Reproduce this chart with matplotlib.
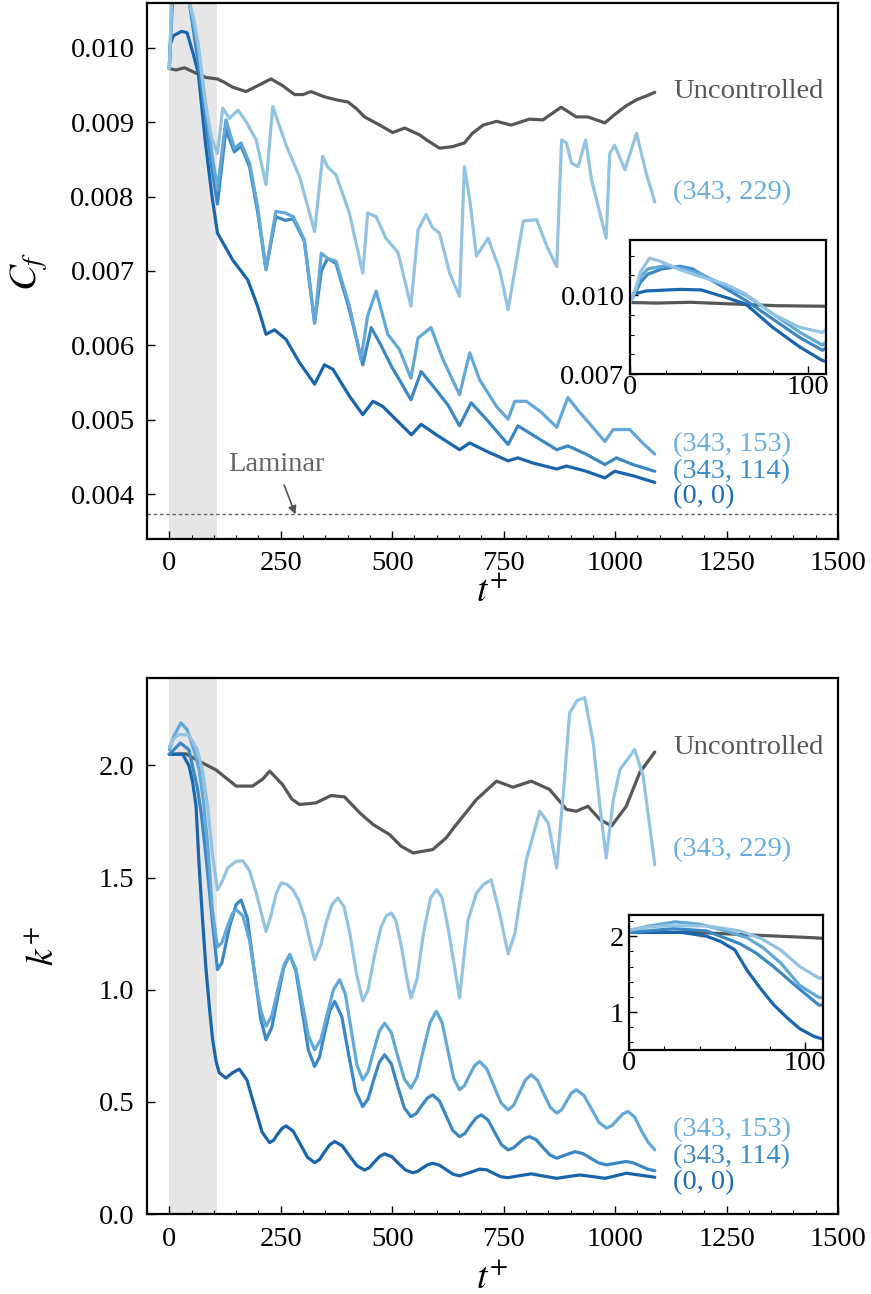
import numpy as np
import matplotlib
matplotlib.use("Agg")
import matplotlib.pyplot as plt
from matplotlib.ticker import MultipleLocator, AutoMinorLocator, FormatStrFormatter

plt.rcParams["font.family"] = ["Liberation Serif", "DejaVu Serif"]
plt.rcParams["mathtext.fontset"] = "stix"

LABELS = ["Uncontrolled", "(343, 229)", "(343, 153)", "(343, 114)", "(0, 0)"]
LINE_COLORS = ["#575757", "#93c3e2", "#62a8d8", "#3b88c4", "#1a66ad"]
TEXT_COLORS = ["#575757", "#6aaee0", "#6aaee0", "#3d8cc8", "#1f6db4"]

# ---- skin friction coefficient C_f ----
cf_t_unc = [0, 15, 34, 52, 82, 108, 125, 142, 172, 202, 228, 254, 281, 300, 318, 348, 374, 401,
            420, 438, 472, 501, 528, 561, 580, 606, 635, 662, 680, 704, 734, 767, 808, 838, 879,
            913, 939, 977, 1003, 1025, 1048, 1070, 1089]
cf_unc = [0.00972, 0.00970, 0.00973, 0.00968, 0.00960, 0.00958, 0.00953, 0.00947, 0.00941,
          0.00950, 0.00958, 0.00949, 0.00937, 0.00937, 0.00941, 0.00934, 0.00930, 0.00927,
          0.00918, 0.00907, 0.00896, 0.00886, 0.00892, 0.00883, 0.00875, 0.00865, 0.00867,
          0.00872, 0.00885, 0.00896, 0.00901, 0.00896, 0.00904, 0.00903, 0.00920, 0.00907,
          0.00907, 0.00899, 0.00912, 0.00922, 0.00930, 0.00935, 0.00940]

cf_t_229 = [0, 3, 6, 11, 17, 28, 39, 54, 65, 80, 95, 108, 120, 135, 154, 172, 195, 217, 232, 262,
            292, 326, 344, 355, 374, 404, 434, 445, 464, 486, 513, 542, 558, 576, 591, 606, 629,
            651, 662, 674, 689, 715, 741, 760, 794, 824, 847, 869, 880, 891, 902, 917, 934, 947,
            962, 980, 988, 999, 1022, 1048, 1070, 1089]
cf_229 = [0.00972, 0.0102, 0.0109, 0.01141, 0.01129, 0.01097, 0.01072, 0.01041, 0.01004, 0.00929,
          0.00878, 0.00858, 0.00919, 0.00905, 0.00916, 0.00901, 0.00876, 0.00816, 0.00921, 0.00869,
          0.00827, 0.00753, 0.00854, 0.00840, 0.00829, 0.00778, 0.00697, 0.00778, 0.00773, 0.00744,
          0.00725, 0.00653, 0.00755, 0.00776, 0.00758, 0.00751, 0.00697, 0.00666, 0.00840, 0.00796,
          0.00720, 0.00744, 0.00702, 0.00648, 0.00767, 0.00769, 0.00733, 0.00706, 0.00876, 0.00872,
          0.00845, 0.00840, 0.00876, 0.00823, 0.00787, 0.00744, 0.00858, 0.00869, 0.00836, 0.00885,
          0.00831, 0.00793]

cf_t_153 = [0, 3, 6, 10, 20, 30, 40, 55, 65, 80, 95, 108, 127, 146, 161, 180, 198, 217, 239, 260,
            278, 303, 326, 341, 355, 374, 404, 430, 445, 464, 490, 516, 542, 558, 587, 614, 651,
            674, 696, 734, 760, 775, 801, 835, 869, 894, 921, 950, 977, 996, 1033, 1060, 1089]
cf_153 = [0.00972, 0.0102, 0.0107, 0.0110, 0.01112, 0.0110, 0.0108, 0.0103, 0.0100, 0.0093,
          0.0086, 0.0081, 0.00903, 0.00865, 0.00872, 0.00845, 0.00787, 0.00702, 0.00780, 0.00778,
          0.00773, 0.00742, 0.00630, 0.00724, 0.00717, 0.00713, 0.00653, 0.00581, 0.00640, 0.00673,
          0.00615, 0.00595, 0.00556, 0.00610, 0.00624, 0.00581, 0.00534, 0.00590, 0.00554, 0.00518,
          0.00501, 0.00525, 0.00525, 0.00510, 0.00490, 0.00530, 0.00510, 0.00490, 0.00471, 0.00487,
          0.00487, 0.00470, 0.00454]

cf_t_114 = [0, 3, 6, 10, 18, 28, 35, 50, 65, 80, 95, 108, 127, 146, 161, 180, 198, 217, 239, 260,
            278, 303, 326, 341, 355, 374, 404, 434, 453, 475, 500, 520, 542, 565, 599, 625, 651,
            677, 711, 760, 782, 831, 869, 894, 935, 977, 1003, 1040, 1089]
cf_114 = [0.00972, 0.0101, 0.0105, 0.0108, 0.0110, 0.0111, 0.0110, 0.0104, 0.0098, 0.0091,
          0.0084, 0.0079, 0.00890, 0.00860, 0.00868, 0.00840, 0.00780, 0.00702, 0.00773, 0.00768,
          0.00770, 0.00740, 0.00630, 0.00700, 0.00717, 0.00710, 0.00648, 0.00574, 0.00624, 0.00600,
          0.00570, 0.00550, 0.00527, 0.00565, 0.00540, 0.00520, 0.00492, 0.00523, 0.00501, 0.00467,
          0.00492, 0.00474, 0.00460, 0.00465, 0.00454, 0.00440, 0.00449, 0.00440, 0.00431]

cf_t_00 = [0, 2, 9, 28, 40, 54, 65, 80, 95, 108, 142, 176, 198, 217, 236, 262, 292, 326, 348, 367,
           404, 434, 457, 479, 516, 543, 565, 599, 651, 674, 711, 760, 782, 816, 869, 891, 935,
           977, 999, 1040, 1089]
cf_00 = [0.00972, 0.01004, 0.01016, 0.01022, 0.0102, 0.00991, 0.00966, 0.00878, 0.00804, 0.00751,
         0.00715, 0.00688, 0.00653, 0.00615, 0.00621, 0.00608, 0.00577, 0.00548, 0.00574, 0.00568,
         0.00532, 0.00507, 0.00525, 0.00518, 0.00496, 0.00480, 0.00494, 0.00480, 0.00460, 0.00469,
         0.00458, 0.00445, 0.00449, 0.00442, 0.00434, 0.00438, 0.00431, 0.00422, 0.00431, 0.00425,
         0.00416]

cf_laminar = 0.00373

# ---- turbulent kinetic energy k^+ ----
k_t_unc = [0, 37, 67, 105, 130, 150, 187, 210, 225, 254, 275, 292, 329, 363, 393, 427, 457, 494,
           520, 547, 591, 621, 644, 689, 734, 771, 812, 853, 891, 913, 939, 966, 992, 1025, 1055,
           1089]
k_unc = [2.05, 2.052, 2.019, 1.98, 1.94, 1.908, 1.908, 1.94, 1.975, 1.915, 1.85, 1.826, 1.833,
         1.866, 1.86, 1.789, 1.737, 1.692, 1.64, 1.61, 1.625, 1.677, 1.737, 1.848, 1.93, 1.903,
         1.93, 1.893, 1.804, 1.796, 1.818, 1.759, 1.73, 1.818, 1.967, 2.06]

k_t_229 = [0, 10, 22, 44, 63, 75, 86, 97, 108, 118, 131, 150, 165, 180, 195, 217, 228, 240, 251,
           264, 277, 290, 303, 315, 326, 340, 352, 365, 378, 392, 406, 420, 434, 446, 460, 475,
           487, 498, 508, 520, 532, 542, 556, 570, 586, 600, 612, 625, 640, 651, 670, 689, 705,
           722, 741, 760, 775, 801, 831, 850, 869, 884, 898, 915, 932, 951, 966, 980, 996, 1011,
           1044, 1063, 1089]
k_229 = [2.083, 2.12, 2.138, 2.136, 2.07, 1.97, 1.82, 1.6, 1.446, 1.48, 1.543, 1.573, 1.575,
         1.53, 1.432, 1.26, 1.33, 1.43, 1.476, 1.47, 1.446, 1.40, 1.327, 1.22, 1.134, 1.20, 1.30,
         1.38, 1.409, 1.37, 1.24, 1.07, 0.95, 1.00, 1.15, 1.28, 1.33, 1.342, 1.31, 1.20, 1.06,
         0.963, 1.05, 1.25, 1.41, 1.446, 1.41, 1.28, 1.10, 0.963, 1.31, 1.43, 1.47, 1.49, 1.34,
         1.16, 1.25, 1.58, 1.796, 1.744, 1.543, 1.878, 2.235, 2.29, 2.302, 2.101, 1.818, 1.588,
         1.848, 1.982, 2.071, 1.952, 1.558]

k_t_153 = [0, 10, 26, 40, 55, 67, 76, 86, 97, 108, 118, 130, 142, 150, 165, 180, 195, 205, 217,
           230, 243, 257, 270, 284, 298, 312, 326, 340, 354, 368, 382, 395, 408, 421, 434, 446,
           458, 471, 483, 498, 512, 527, 542, 556, 570, 585, 599, 612, 625, 638, 651, 662, 673,
           685, 696, 712, 728, 744, 760, 773, 786, 799, 812, 826, 840, 855, 869, 880, 891, 902,
           913, 930, 947, 964, 981, 993, 1005, 1017, 1029, 1044, 1059, 1074, 1089]
k_153 = [2.07, 2.13, 2.19, 2.16, 2.07, 1.98, 1.85, 1.65, 1.35, 1.19, 1.21, 1.28, 1.342, 1.357,
         1.33, 1.22, 1.02, 0.91, 0.837, 0.884, 0.997, 1.109, 1.156, 1.094, 0.944, 0.794, 0.732,
         0.778, 0.889, 0.999, 1.045, 0.980, 0.822, 0.663, 0.598, 0.635, 0.725, 0.814, 0.851,
         0.809, 0.706, 0.603, 0.561, 0.611, 0.733, 0.854, 0.904, 0.853, 0.729, 0.605, 0.554,
         0.572, 0.617, 0.662, 0.68, 0.648, 0.572, 0.496, 0.464, 0.487, 0.543, 0.598, 0.621,
         0.596, 0.536, 0.475, 0.45, 0.465, 0.502, 0.539, 0.554, 0.529, 0.469, 0.408, 0.383,
         0.394, 0.42, 0.446, 0.457, 0.432, 0.372, 0.32, 0.286]

k_t_114 = [0, 10, 25, 44, 63, 72, 82, 97, 108, 118, 135, 150, 161, 175, 195, 205, 217, 230, 243,
           257, 270, 284, 298, 312, 326, 337, 348, 360, 371, 387, 402, 418, 434, 446, 458, 471,
           483, 498, 512, 527, 542, 554, 566, 579, 591, 606, 621, 636, 651, 663, 675, 688, 700,
           715, 730, 745, 760, 772, 784, 796, 808, 823, 838, 854, 869, 890, 910, 928, 945, 963,
           981, 1003, 1025, 1041, 1057, 1073, 1089]
k_114 = [2.05, 2.07, 2.1, 2.07, 1.9, 1.78, 1.6, 1.3, 1.09, 1.12, 1.28, 1.38, 1.40, 1.32, 1.02,
         0.87, 0.777, 0.832, 0.966, 1.101, 1.156, 1.083, 0.907, 0.731, 0.658, 0.700, 0.803,
         0.906, 0.948, 0.880, 0.714, 0.547, 0.479, 0.513, 0.595, 0.676, 0.71, 0.670, 0.572,
         0.474, 0.434, 0.448, 0.483, 0.517, 0.531, 0.504, 0.438, 0.372, 0.345, 0.359, 0.394,
         0.428, 0.442, 0.419, 0.364, 0.309, 0.286, 0.295, 0.316, 0.336, 0.345, 0.331, 0.297,
         0.263, 0.249, 0.264, 0.278, 0.269, 0.249, 0.228, 0.219, 0.227, 0.234, 0.228, 0.214,
         0.20, 0.193]

k_t_00 = [0, 30, 44, 52, 60, 67, 75, 82, 90, 97, 105, 112, 127, 142, 157, 174, 191, 208, 225,
          234, 243, 253, 262, 278, 294, 310, 326, 337, 348, 360, 371, 388, 404, 421, 438, 449,
          460, 472, 483, 499, 514, 530, 546, 557, 568, 580, 591, 606, 621, 636, 651, 674, 696,
          712, 728, 744, 760, 786, 812, 840, 869, 895, 921, 949, 977, 1001, 1025, 1057, 1089]
k_00 = [2.05, 2.05, 2.00, 1.93, 1.82, 1.55, 1.30, 1.10, 0.92, 0.78, 0.68, 0.63, 0.606, 0.63,
        0.646, 0.598, 0.482, 0.366, 0.318, 0.329, 0.356, 0.382, 0.393, 0.369, 0.311, 0.253,
        0.229, 0.243, 0.276, 0.309, 0.323, 0.304, 0.26, 0.215, 0.196, 0.207, 0.232, 0.257,
        0.268, 0.256, 0.226, 0.196, 0.184, 0.19, 0.205, 0.22, 0.226, 0.218, 0.198, 0.178, 0.17,
        0.185, 0.2, 0.197, 0.181, 0.166, 0.162, 0.171, 0.179, 0.169, 0.159, 0.167, 0.174, 0.167,
        0.159, 0.17, 0.182, 0.173, 0.164]

CONTROL_END = 108

cf_series = [(cf_t_unc, cf_unc), (cf_t_229, cf_229), (cf_t_153, cf_153),
             (cf_t_114, cf_114), (cf_t_00, cf_00)]
k_series = [(k_t_unc, k_unc), (k_t_229, k_229), (k_t_153, k_153),
            (k_t_114, k_114), (k_t_00, k_00)]
cf_label_y = [0.009406, 0.008051, 0.00467, 0.00431, 0.003975]
k_label_y = [2.08, 1.625, 0.375, 0.254, 0.138]

FS = 20.5
W, H = 871, 1294


def style(ax, pad=9):
    ax.tick_params(which="both", direction="in", labelsize=FS, top=False, right=False)
    ax.tick_params(which="major", length=6, width=1.0, pad=pad)
    ax.tick_params(which="minor", length=3, width=0.8)
    for s in ax.spines.values():
        s.set_linewidth(1.6)


def draw_lines(ax, series, order=(0, 4, 3, 2, 1)):
    for i in order:
        t, v = series[i]
        ax.plot(t, v, color=LINE_COLORS[i], lw=2.3, solid_capstyle="round")


fig = plt.figure(figsize=(W / 100, H / 100), dpi=100)
ax1 = fig.add_axes([147 / W, 1 - 539 / H, 691 / W, 536 / H])
ax2 = fig.add_axes([147 / W, 1 - 1214 / H, 691 / W, 536 / H])

for ax, series, ly in [(ax1, cf_series, cf_label_y), (ax2, k_series, k_label_y)]:
    ax.axvspan(0, CONTROL_END, color="#e6e6e6", lw=0, zorder=0)
    draw_lines(ax, series)
    for i, lab in enumerate(LABELS):
        ax.text(1130, ly[i], lab, color=TEXT_COLORS[i], fontsize=FS, va="center", ha="left")
    ax.set_xlim(-50, 1500)
    ax.xaxis.set_major_locator(MultipleLocator(250))
    ax.xaxis.set_minor_locator(MultipleLocator(50))
    ax.set_xlabel(r"$t^{+}$", fontsize=27)
    style(ax)

ax1.set_ylim(0.0034, 0.0106)
ax1.yaxis.set_major_locator(MultipleLocator(0.001))
ax1.yaxis.set_major_formatter(FormatStrFormatter("%.3f"))
ax1.set_ylabel(r"$C_f$", fontsize=28)
ax1.yaxis.set_label_coords(-0.140, 0.5)
ax1.xaxis.set_label_coords(0.5, -0.066)
ax1.axhline(cf_laminar, color="#666666", lw=1.0, ls=(0, (2.5, 2)), zorder=1)
ax1.annotate("Laminar", xy=(283, cf_laminar), xytext=(240, 0.0044), fontsize=FS,
             color="#666666", ha="center", va="center",
             arrowprops=dict(arrowstyle="-|>", color="#555555", lw=1.2,
                             mutation_scale=12, shrinkA=4, shrinkB=0))

ax2.set_ylim(0, 2.39)
ax2.yaxis.set_major_locator(MultipleLocator(0.5))
ax2.yaxis.set_major_formatter(FormatStrFormatter("%.1f"))
ax2.set_ylabel(r"$k^{+}$", fontsize=27)
ax2.yaxis.set_label_coords(-0.125, 0.5)
ax2.xaxis.set_label_coords(0.5, -0.088)

# insets over the control window
in1 = fig.add_axes([630 / W, 1 - 374 / H, 196 / W, 134 / H])
draw_lines(in1, cf_series)
in1.set_xlim(0, 110)
in1.set_ylim(0.007, 0.0121)
in1.yaxis.set_major_locator(MultipleLocator(0.003, offset=0.001))
in1.yaxis.set_minor_locator(AutoMinorLocator(4))
in1.yaxis.set_major_formatter(FormatStrFormatter("%.3f"))

in2 = fig.add_axes([629.3 / W, 1 - 1050 / H, 193.4 / W, 135 / H])
draw_lines(in2, k_series)
in2.set_xlim(0, 110)
in2.set_ylim(0.5, 2.28)
in2.yaxis.set_major_locator(MultipleLocator(1))
in2.yaxis.set_minor_locator(AutoMinorLocator(5))

for ax in (in1, in2):
    ax.xaxis.set_major_locator(MultipleLocator(100))
    ax.xaxis.set_minor_locator(AutoMinorLocator(5))
    style(ax)
    ax.tick_params(axis="x", which="major", pad=1)
    ax.tick_params(axis="y", which="major", pad=4)

fig.savefig("out.png", dpi=100)
